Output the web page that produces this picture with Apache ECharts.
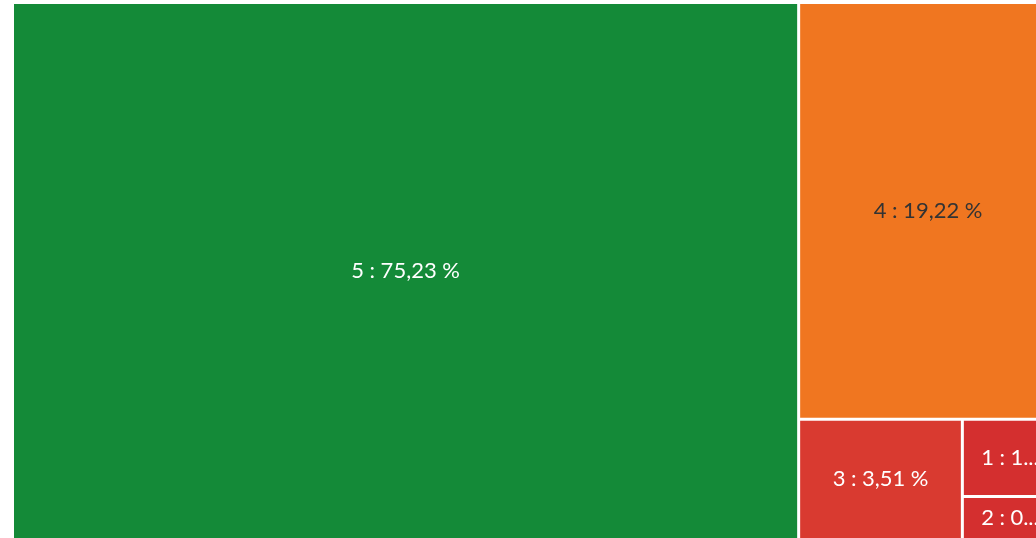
<!DOCTYPE html>
<html>
<head>
<meta charset="utf-8">
<style>
  html, body { margin: 0; padding: 0; background: #fff; overflow: hidden; }
  #chart { width: 1036px; height: 538px; }
</style>
<script src="https://cdn.jsdelivr.net/npm/echarts@6/dist/echarts.min.js"></script>
</head>
<body>
<div id="chart"></div>
<script>
// notes (catégories) et leur part en %
const names = ['5', '4', '3', '1', '2']
const shares = [75.23, 19.22, 3.51, 1.31, 0.73]
const colors = ['#148a38', '#f07620', '#d93a30', '#d42f2f', '#d42f2f']
const labelColors = ['#ffffff', '#333333', '#ffffff', '#ffffff', '#ffffff']

const fmt = (v) => v.toFixed(2).replace('.', ',')

const chart = echarts.init(document.getElementById('chart'))
chart.setOption({
  animation: false,
  series: [{
    type: 'treemap',
    left: 14,
    top: 4,
    width: 1042,
    height: 534,
    roam: false,
    nodeClick: false,
    breadcrumb: { show: false },
    levels: [{ itemStyle: { borderWidth: 0, gapWidth: 3 } }],
    label: {
      show: true,
      position: 'inside',
      fontFamily: 'Lato',
      fontSize: 22,
      overflow: 'truncate',
      formatter: (p) => p.name + '\u202f:\u202f' + fmt(p.value) + '\u202f%'
    },
    data: names.map((n, i) => ({
      name: n,
      value: shares[i],
      itemStyle: { color: colors[i] },
      label: { color: labelColors[i] }
    }))
  }]
})
</script>
</body>
</html>
